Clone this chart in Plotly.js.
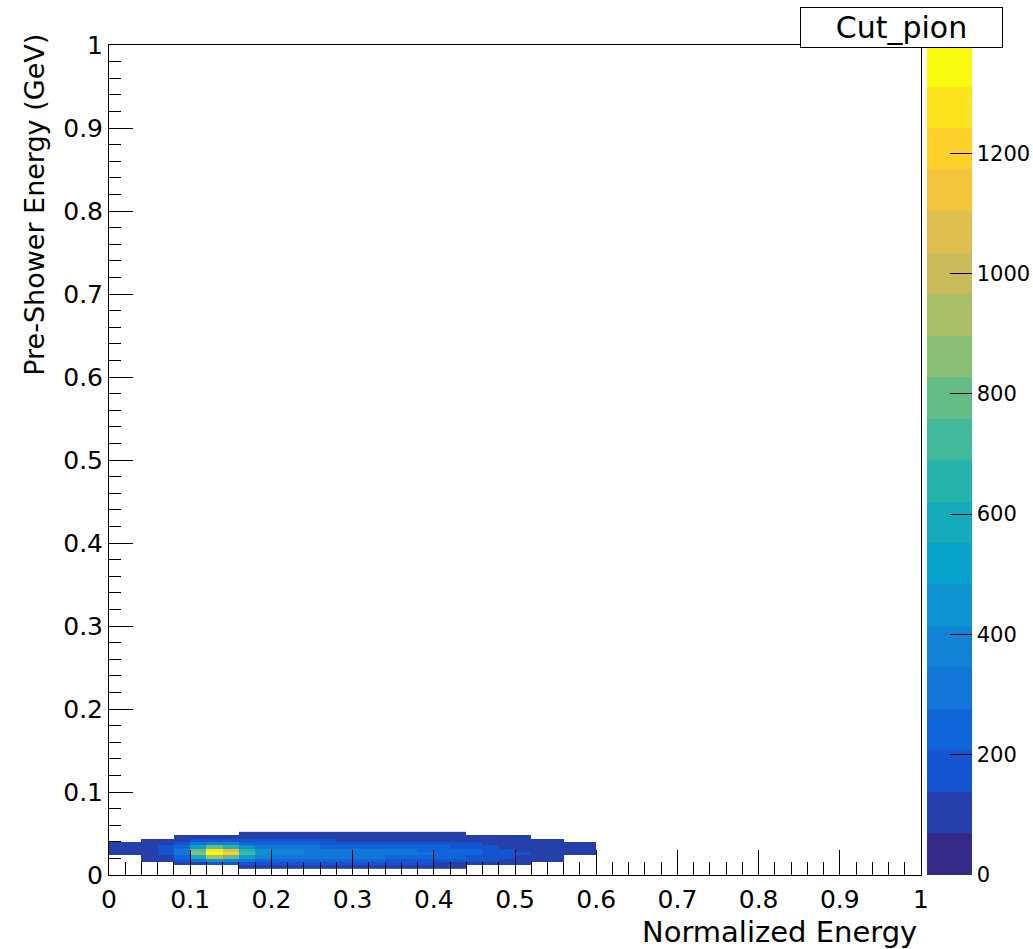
<!DOCTYPE html>
<html>
<head>
<meta charset="utf-8">
<script src="https://cdn.plot.ly/plotly-3.0.1.min.js"></script>
<style>html,body{margin:0;padding:0;background:#fff;}#chart{width:1033px;height:949px;}</style>
</head>
<body>
<div id="chart"></div>
<script>
// ---- Data ----
const histTitle = "Cut_pion";
const xTitle = "Normalized Energy";
const yTitle = "Pre-Shower Energy (GeV)";

// bin centres
const xCenters = [0.01,0.03,0.05,0.07,0.09,0.11,0.13,0.15,0.17,0.19,0.21,0.23,0.25,0.27,0.29,
                  0.31,0.33,0.35,0.37,0.39,0.41,0.43,0.45,0.47,0.49,0.51,0.53,0.55,0.57,0.59];
const yCenters = [0.010,0.014,0.018,0.022,0.026,0.030,0.034,0.038,0.042,0.046,0.050];

const _ = null;
const row0  = [_,_,_,_,_,_,_,_,90,100,105,110,110,110,105,105,100,100,95,95,90,85,_,_,_,_,_,_,_,_];
const row1  = [_,_,_,_,80,110,150,160,160,160,160,160,160,155,155,150,150,145,145,140,130,120,110,100,90,80,_,_,_,_];
const row2  = [_,_,80,100,160,300,440,400,320,260,240,230,225,220,215,215,210,205,200,195,190,175,160,145,125,110,95,80,_,_];
const row3  = [_,_,90,130,240,580,920,820,540,400,340,320,305,300,295,290,285,275,265,255,240,220,200,175,150,125,100,85,_,_];
const row4  = [90,100,130,180,340,840,1350,1180,720,470,380,355,340,335,330,320,310,300,290,280,265,245,225,200,170,145,120,105,95,85];
const row5  = [90,100,130,180,320,760,1250,1080,640,440,365,345,330,325,320,310,300,290,280,270,255,235,215,190,160,135,115,100,90,80];
const row6  = [85,95,115,150,240,500,780,680,430,340,300,290,280,275,270,265,255,245,235,225,210,195,180,160,135,115,100,90,85,80];
const row7  = [80,90,100,120,170,280,390,350,270,240,225,215,210,205,200,195,190,185,180,170,160,150,140,125,110,100,90,85,80,75];
const row8  = [_,_,75,95,120,150,190,180,160,155,150,145,140,140,135,135,130,125,125,120,115,110,100,95,90,85,80,75,_,_];
const row9  = [_,_,_,_,80,100,115,120,120,120,115,115,110,110,105,105,105,100,100,95,90,85,80,80,75,70,_,_,_,_];
const row10 = [_,_,_,_,_,_,_,_,85,95,100,100,100,100,95,95,95,90,90,90,85,80,_,_,_,_,_,_,_,_];
const zRows = [row0,row1,row2,row3,row4,row5,row6,row7,row8,row9,row10];

const zMax = 1380;
const nLevels = 20;

// ---- ROOT kBird palette, discretised into contour levels ----
const bStops = [0.0,0.125,0.25,0.375,0.5,0.625,0.75,0.875,1.0];
const bR = [0.2082,0.0592,0.0780,0.0232,0.1802,0.5301,0.8186,0.9956,0.9764];
const bG = [0.1664,0.3599,0.5041,0.6419,0.7178,0.7492,0.7328,0.7862,0.9832];
const bB = [0.5293,0.8684,0.8385,0.7914,0.6425,0.4662,0.3499,0.1968,0.0539];
function bird(t){
  let i = 0;
  while (i < bStops.length-2 && t > bStops[i+1]) i++;
  const f = (t - bStops[i])/(bStops[i+1]-bStops[i]);
  const c = a => Math.round(255*(a[i] + f*(a[i+1]-a[i])));
  return `rgb(${c(bR)},${c(bG)},${c(bB)})`;
}
const colorscale = [];
for (let i = 0; i < nLevels; i++) {
  const col = bird(i/(nLevels-1));
  colorscale.push([i/nLevels, col]);
  colorscale.push([(i+1)/nLevels, col]);
}

const FONT = "DejaVu Sans";
const trace = {
  type: "heatmap",
  x: xCenters, y: yCenters, z: zRows,
  zmin: 0, zmax: zMax,
  colorscale: colorscale,
  hoverongaps: false,
  colorbar: {
    x: 1.0074, xanchor: "left", xpad: 0,
    y: 0.5, yanchor: "middle", ypad: 0,
    len: 1, lenmode: "fraction",
    thickness: 45, thicknessmode: "pixels",
    outlinewidth: 0,
    tick0: 0, dtick: 200,
    ticks: "inside", ticklen: 22, tickcolor: "#000", tickwidth: 1,
    ticklabelstandoff: 0,
    tickfont: {family: FONT, size: 21, color: "#000"}
  }
};

const axisCommon = {
  range: [0, 1], tick0: 0, dtick: 0.1,
  ticks: "inside", tickcolor: "#000", tickwidth: 1,
  showline: true, linecolor: "#000", linewidth: 1, mirror: true,
  showgrid: false, zeroline: false,
  tickfont: {family: FONT, size: 25, color: "#000"}
};

const layout = {
  width: 1033, height: 949,
  margin: {l: 109, r: 112, t: 45, b: 74, pad: 0, autoexpand: false},
  paper_bgcolor: "#fff", plot_bgcolor: "#fff",
  showlegend: false,
  xaxis: Object.assign({}, axisCommon, {
    ticklen: 25, ticklabelstandoff: 2,
    minor: {dtick: 0.02, ticks: "inside", ticklen: 13, tickcolor: "#000", tickwidth: 1, showgrid: false}
  }),
  yaxis: Object.assign({}, axisCommon, {
    ticklen: 24,
    minor: {dtick: 0.02, ticks: "inside", ticklen: 12, tickcolor: "#000", tickwidth: 1, showgrid: false}
  }),
  annotations: [
    {text: histTitle, xref: "paper", yref: "paper", x: 0.9754, y: 1.0205,
     xanchor: "center", yanchor: "middle", showarrow: false,
     width: 201, height: 39, bgcolor: "#fff", bordercolor: "#000", borderwidth: 1, borderpad: 0,
     font: {family: FONT, size: 30, color: "#000"}},
    {text: xTitle, xref: "paper", yref: "paper", x: 0.997, y: -0.0685,
     xanchor: "right", yanchor: "middle", showarrow: false,
     font: {family: FONT, size: 29, color: "#000"}},
    {text: yTitle, xref: "paper", yref: "paper", x: -0.0911, y: 1.016,
     xanchor: "center", yanchor: "top", textangle: -90, showarrow: false,
     font: {family: FONT, size: 27, color: "#000"}}
  ]
};

Plotly.newPlot("chart", [trace], layout, {staticPlot: true, displayModeBar: false});
</script>
</body>
</html>
